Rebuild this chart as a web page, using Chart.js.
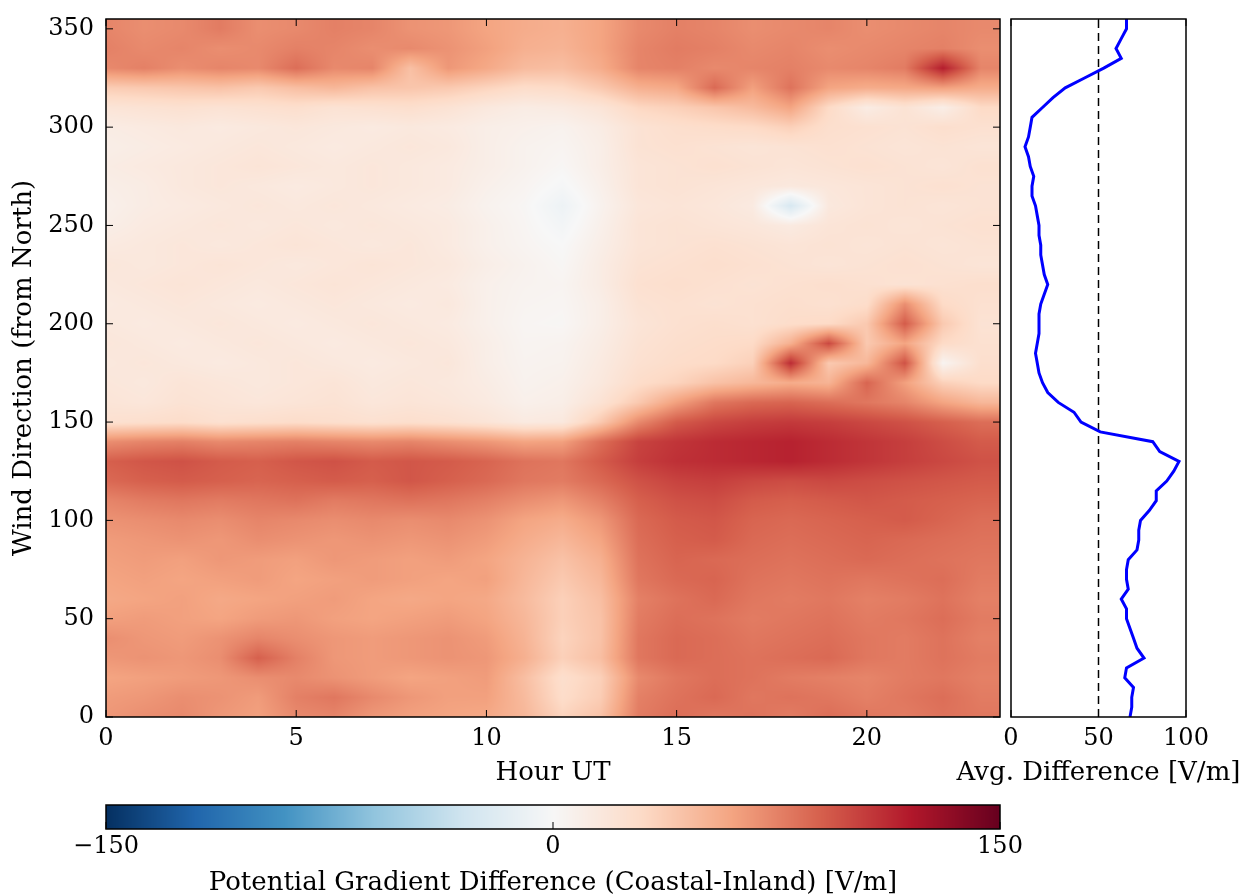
<!DOCTYPE html>
<html>
<head>
<meta charset="utf-8">
<script src="https://cdn.jsdelivr.net/npm/chart.js@4.4.1/dist/chart.umd.min.js"></script>
<style>
  html, body { margin: 0; padding: 0; background: #fff; }
  body { width: 1243px; height: 896px; position: relative; overflow: hidden; }
  canvas { position: absolute; }
  #heat { left: 0; top: 0; }
  #avg { left: 940px; top: 0; }
  #cbar { left: 0; top: 780px; }
</style>
</head>
<body>
<canvas id="heat" width="1005" height="800"></canvas>
<canvas id="avg" width="303" height="800"></canvas>
<canvas id="cbar" width="1243" height="116"></canvas>
<script>
// PG difference (coastal - inland), V/m, by wind direction (rows) and hour UT (columns)
const hours = [0,1,2,3,4,5,6,7,8,9,10,11,12,13,14,15,16,17,18,19,20,21,22,23];
const directions = [0,10,20,30,40,50,60,70,80,90,100,110,120,130,140,150,160,170,
                    180,190,200,210,220,230,240,250,260,270,280,290,300,310,320,330,340,350];
const pgDiff = [
  [66,70,72,66,62,72,74,66,62,60,58,50,34,44,78,84,80,82,78,84,80,78,82,80],
  [64,66,70,68,64,76,80,72,66,62,62,48,28,38,76,82,86,80,82,80,76,80,84,78],
  [60,62,64,66,70,72,68,64,60,62,64,46,26,36,72,80,84,82,78,76,74,78,80,76],
  [66,68,66,70,90,76,66,64,66,68,66,54,36,46,80,86,84,82,84,86,80,78,82,78],
  [70,66,64,68,74,70,66,64,66,68,64,52,34,44,80,86,84,80,82,84,80,78,82,76],
  [62,64,62,60,64,66,62,60,62,64,60,50,36,44,78,84,82,78,80,82,78,80,84,78],
  [58,60,62,58,60,62,64,60,58,60,58,48,36,46,76,82,86,80,78,80,76,78,82,76],
  [60,62,60,62,64,60,62,64,62,60,62,50,40,50,80,86,88,82,80,82,80,82,84,78],
  [62,64,62,66,64,62,66,64,62,64,60,52,44,54,82,88,86,84,82,84,86,84,82,80],
  [64,66,68,66,70,68,66,68,66,68,64,56,50,60,84,90,92,86,84,86,88,86,84,82],
  [68,70,72,70,74,72,70,72,70,72,68,60,56,66,86,92,94,88,86,88,90,92,88,84],
  [74,78,80,78,80,82,78,80,82,80,76,70,66,76,90,96,98,92,90,92,94,92,90,88],
  [86,90,92,90,88,90,92,90,94,90,86,80,78,86,96,102,104,100,98,100,98,96,94,92],
  [90,94,96,92,90,94,96,92,94,92,88,82,80,92,104,110,112,114,116,112,108,104,100,96],
  [70,74,76,72,74,76,74,72,74,70,66,60,62,84,102,108,112,114,116,112,108,104,98,92],
  [24,26,28,24,26,28,26,24,26,24,20,14,16,40,72,92,100,104,106,104,100,96,90,84],
  [20,18,22,20,18,20,22,18,20,18,14,8,10,22,40,62,80,86,88,84,80,74,60,50],
  [18,16,20,18,16,18,20,16,18,16,12,6,8,16,28,34,44,50,56,52,88,62,36,30],
  [16,18,16,14,16,18,16,14,16,18,10,5,6,14,24,28,30,36,112,40,50,96,4,26],
  [18,16,14,16,18,16,14,16,18,16,10,4,5,12,22,26,28,30,54,100,40,60,30,24],
  [16,14,16,18,16,14,16,18,16,14,8,3,2,10,20,24,26,24,28,30,40,92,40,22],
  [14,16,18,16,14,16,18,16,14,16,8,4,3,10,22,24,22,24,26,24,28,70,30,24],
  [16,18,20,18,16,18,20,18,16,14,8,5,4,12,24,26,24,22,24,26,24,22,24,26],
  [18,16,18,20,18,16,18,20,18,16,10,6,2,12,22,24,26,24,22,20,22,24,22,20],
  [14,16,18,16,18,20,18,16,18,14,8,4,0,10,20,22,24,22,20,22,20,22,20,22],
  [10,14,16,18,16,18,16,18,16,14,8,3,-4,8,20,22,20,18,14,20,22,20,22,24],
  [8,12,14,16,18,16,18,16,14,12,6,2,-8,6,18,20,18,14,-25,16,20,22,20,22],
  [10,12,16,18,16,14,16,18,16,14,8,4,-2,8,20,22,20,18,16,18,20,22,24,22],
  [12,14,16,18,20,18,16,18,16,14,10,6,2,10,20,22,24,22,20,22,24,22,20,24],
  [10,12,14,16,18,16,14,16,18,16,10,6,4,10,22,24,22,20,22,24,22,20,22,20],
  [12,14,16,14,16,18,16,14,16,14,10,8,6,12,22,26,28,30,36,26,24,22,26,24],
  [20,22,24,22,24,26,22,24,26,22,16,12,14,20,32,36,42,48,60,30,12,22,10,30],
  [38,40,42,44,40,46,50,44,42,40,34,28,30,40,54,58,86,62,82,60,56,58,62,56],
  [72,76,70,74,72,84,72,74,45,66,58,48,46,56,74,76,72,74,76,72,74,78,118,74],
  [76,72,74,70,72,76,74,70,72,68,62,54,52,60,74,78,76,72,74,70,72,74,76,70],
  [74,70,72,78,70,72,76,74,68,66,60,56,54,60,72,76,74,70,72,74,70,72,74,72]
];

// average difference over all hours, by wind direction
const avgDirections = [0,5,10,15,20,25,30,35,40,45,50,55,60,65,70,75,80,85,90,95,100,105,110,115,
                       120,125,130,135,140,145,150,155,160,165,170,175,180,185,190,195,200,205,210,215,
                       220,225,230,235,240,245,250,255,260,265,270,275,280,285,290,295,300,305,310,315,
                       320,325,330,335,340,345,350,355];
const avgDiff = [68,69,69,70,65,66,76,72,70,68,66,66,63,67,66,66,67,72,73,73,74,79,83,83,
                 89,93,96,85,81,51,40,36,27,21,18,16,15,14,15,16,16,16,17,19,
                 21,19,18,17,17,16,16,15,14,12,12,13,11,10,8,10,11,12,18,24,
                 31,42,53,63,60,63,66,66];
const refLevel = 50;

const cbarMin = -150, cbarMax = 150;
const cbarTicks = [-150, 0, 150];

// RdBu reversed
const rdbuR = ['#053061','#2166ac','#4393c3','#92c5de','#d1e5f0','#f7f7f7',
               '#fddbc7','#f4a582','#d6604d','#b2182b','#67001f']
  .map(h => [parseInt(h.slice(1,3),16), parseInt(h.slice(3,5),16), parseInt(h.slice(5,7),16)]);

function colorFor(v) {
  let t = (v - cbarMin) / (cbarMax - cbarMin);
  t = Math.max(0, Math.min(1, t));
  const f = t * (rdbuR.length - 1);
  const i = Math.min(rdbuR.length - 2, Math.floor(f));
  const u = f - i;
  const a = rdbuR[i], b = rdbuR[i + 1];
  return [a[0] + (b[0]-a[0])*u, a[1] + (b[1]-a[1])*u, a[2] + (b[2]-a[2])*u];
}

function locate(arr, v) {
  const n = arr.length - 1;
  if (v <= arr[0]) return [0, 0, 0];
  if (v >= arr[n]) return [n, n, 0];
  let i = 0;
  while (arr[i + 1] < v) i++;
  return [i, i + 1, (v - arr[i]) / (arr[i + 1] - arr[i])];
}

Chart.defaults.font.family = "'DejaVu Serif', serif";
Chart.defaults.font.size = 24;
Chart.defaults.color = '#000';
Chart.defaults.animation = false;

const titleFont = {size: 26};

// shaded field, bilinear between grid nodes
const heatmapPlugin = {
  id: 'heatmap',
  beforeDatasetsDraw(chart) {
    const {ctx, chartArea: a, scales: {x, y}} = chart;
    const left = Math.round(a.left), top = Math.round(a.top);
    const w = Math.round(a.right) - left, h = Math.round(a.bottom) - top;
    const img = ctx.createImageData(w, h);
    const cols = [], rows = [];
    for (let i = 0; i < w; i++) cols.push(locate(hours, x.getValueForPixel(left + i + 0.5)));
    for (let j = 0; j < h; j++) rows.push(locate(directions, y.getValueForPixel(top + j + 0.5)));
    let k = 0;
    for (let j = 0; j < h; j++) {
      const [r0, r1, ry] = rows[j];
      const row0 = pgDiff[r0], row1 = pgDiff[r1];
      for (let i = 0; i < w; i++) {
        const [c0, c1, cx] = cols[i];
        const v = (1 - ry) * ((1 - cx) * row0[c0] + cx * row0[c1]) +
                  ry * ((1 - cx) * row1[c0] + cx * row1[c1]);
        const c = colorFor(v);
        img.data[k++] = c[0]; img.data[k++] = c[1]; img.data[k++] = c[2]; img.data[k++] = 255;
      }
    }
    ctx.putImageData(img, left, top);
  }
};

// horizontal colour ramp for the colorbar
const rampPlugin = {
  id: 'ramp',
  beforeDatasetsDraw(chart) {
    const {ctx, chartArea: a, scales: {x}} = chart;
    for (let px = Math.floor(a.left); px < a.right; px++) {
      const c = colorFor(x.getValueForPixel(px + 0.5));
      ctx.fillStyle = `rgb(${c[0]|0},${c[1]|0},${c[2]|0})`;
      ctx.fillRect(px, a.top, 1, a.bottom - a.top);
    }
  }
};

// axes box with inward tick marks
const framePlugin = {
  id: 'frame',
  afterDatasetsDraw(chart, args, opts) {
    const {ctx, chartArea: a, scales} = chart;
    const len = opts.tickLength || 7;
    ctx.save();
    ctx.strokeStyle = '#000';
    ctx.lineWidth = 1;
    ctx.beginPath();
    (opts.xEdges || []).forEach(edge => {
      scales.x.ticks.forEach((t, i) => {
        const px = scales.x.getPixelForTick(i);
        const y0 = edge === 'bottom' ? a.bottom : a.top;
        ctx.moveTo(px, y0);
        ctx.lineTo(px, edge === 'bottom' ? y0 - len : y0 + len);
      });
    });
    (opts.yEdges || []).forEach(edge => {
      scales.y.ticks.forEach((t, i) => {
        const py = scales.y.getPixelForTick(i);
        const x0 = edge === 'left' ? a.left : a.right;
        ctx.moveTo(x0, py);
        ctx.lineTo(edge === 'left' ? x0 + len : x0 - len, py);
      });
    });
    ctx.stroke();
    ctx.lineWidth = 1.5;
    ctx.strokeRect(a.left, a.top, a.right - a.left, a.bottom - a.top);
    ctx.restore();
  }
};

const noAxisLine = {display: false};
const noGrid = {display: false, drawTicks: false};

// main panel
new Chart(document.getElementById('heat'), {
  type: 'scatter',
  data: {
    datasets: [{
      data: directions.flatMap((d, r) => hours.map((h, c) => ({x: h, y: d, v: pgDiff[r][c]}))),
      pointRadius: 0
    }]
  },
  options: {
    responsive: false,
    events: [],
    layout: {padding: {top: 19, right: 5, left: 0, bottom: 0}},
    plugins: {
      legend: {display: false},
      tooltip: {enabled: false},
      frame: {xEdges: ['bottom', 'top'], yEdges: ['left', 'right']}
    },
    scales: {
      x: {
        type: 'linear', min: 0, max: 23.5,
        grid: noGrid, border: noAxisLine,
        ticks: {stepSize: 5, includeBounds: false, padding: 7},
        title: {display: true, text: 'Hour UT', font: titleFont, padding: {top: 0, bottom: 11}},
        afterFit: s => { s.height = 83; }
      },
      y: {
        type: 'linear', min: 0, max: 355,
        grid: noGrid, border: noAxisLine,
        ticks: {stepSize: 50, includeBounds: false, padding: 12},
        title: {display: true, text: 'Wind Direction (from North)', font: titleFont, padding: {top: 9, bottom: 0}},
        afterFit: s => { s.width = 106; s.paddingTop = 0; s.paddingBottom = 0; }
      }
    }
  },
  plugins: [heatmapPlugin, framePlugin]
});

// side panel: mean over hours
new Chart(document.getElementById('avg'), {
  type: 'scatter',
  data: {
    datasets: [{
      data: avgDirections.map((d, i) => ({x: avgDiff[i], y: d})),
      showLine: true, borderColor: '#0000ff', borderWidth: 3, pointRadius: 0, tension: 0
    }, {
      data: [{x: refLevel, y: 0}, {x: refLevel, y: 355}],
      showLine: true, borderColor: '#000', borderWidth: 1.5, borderDash: [8, 5], pointRadius: 0
    }]
  },
  options: {
    responsive: false,
    events: [],
    layout: {padding: {top: 19, right: 57, left: 71, bottom: 0}},
    plugins: {
      legend: {display: false},
      tooltip: {enabled: false},
      frame: {xEdges: ['bottom', 'top']}
    },
    scales: {
      x: {
        type: 'linear', min: 0, max: 100,
        grid: noGrid, border: noAxisLine,
        ticks: {stepSize: 50, padding: 7},
        afterFit: s => { s.height = 83; }
      },
      y: {type: 'linear', min: 0, max: 355, display: false}
    }
  },
  plugins: [framePlugin, {
    id: 'sideTitle',
    afterDraw(chart) {
      const {ctx, chartArea: a, scales: {x}} = chart;
      ctx.save();
      ctx.font = "26px 'DejaVu Serif', serif";
      ctx.fillStyle = '#000';
      ctx.textAlign = 'center';
      ctx.textBaseline = 'middle';
      ctx.fillText('Avg. Difference [V/m]', (a.left + a.right) / 2, x.bottom - 27);
      ctx.restore();
    }
  }]
});

// colorbar
new Chart(document.getElementById('cbar'), {
  type: 'scatter',
  data: {datasets: [{data: [], pointRadius: 0}]},
  options: {
    responsive: false,
    events: [],
    layout: {padding: {top: 25, right: 243, left: 106, bottom: 0}},
    plugins: {
      legend: {display: false},
      tooltip: {enabled: false},
      frame: {xEdges: ['bottom']}
    },
    scales: {
      x: {
        type: 'linear', min: cbarMin, max: cbarMax,
        grid: noGrid, border: noAxisLine,
        afterBuildTicks: s => { s.ticks = cbarTicks.map(v => ({value: v})); },
        ticks: {
          padding: 3,
          callback: v => v < 0 ? '\u2212' + Math.abs(v) : String(v)
        },
        title: {
          display: true, text: 'Potential Gradient Difference (Coastal-Inland) [V/m]',
          font: {size: 26, lineHeight: 1}, padding: {top: 0, bottom: 0}
        },
        afterFit: s => { s.height = 67; }
      },
      y: {type: 'linear', min: 0, max: 1, display: false}
    }
  },
  plugins: [rampPlugin, framePlugin]
});
</script>
</body>
</html>
